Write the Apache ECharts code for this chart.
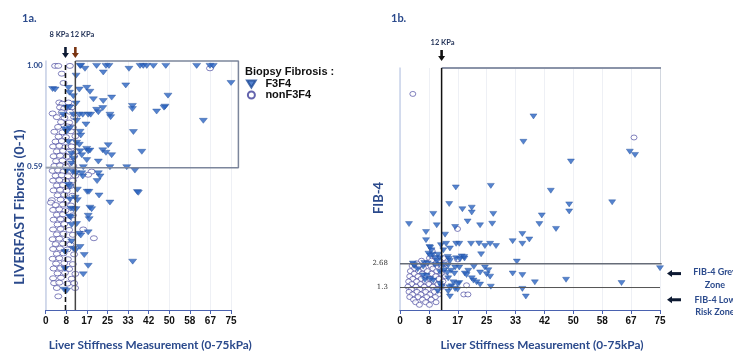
<!DOCTYPE html>
<html>
<head>
<meta charset="utf-8">
<script src="https://cdn.jsdelivr.net/npm/echarts@6/dist/echarts.min.js"></script>
<style>
  html, body { margin: 0; background: #fff; }
  #chart { width: 733px; height: 356px; }
</style>
</head>
<body>
<div id="chart"></div>
<script>
// tick labels of both x axes (0-75 kPa split in 9 steps)
const xTickLabels = ['0', '8', '17', '25', '33', '42', '50', '58', '67', '75'];
const liverfastTicks = [0.59, 1.00];
const fib4Ticks = [1.3, 2.68];

// cut-offs
const lsmCutLow = 8;
const lsmCutHigh = 12;
const liverfastCut = 0.59;
const fib4Grey = 2.68;
const fib4Low = 1.3;

// 1a. LIVERFAST vs LSM  [kPa, score]
const liverfastF3F4 = [
  [13.9, 1.0], [14.2, 1.0], [20.6, 1.0], [24.4, 1.0], [25.6, 1.0], [38.2, 1.0], [39.5, 1.0], [40.9, 1.0],
  [43.6, 1.0], [48.6, 1.0], [61.1, 1.0], [66.5, 1.0], [67.8, 1.0], [15.9, 0.988], [33.7, 0.988],
  [23.3, 0.973], [12.3, 0.96], [75, 0.93], [2.8, 0.905], [3.8, 0.903], [9.2, 0.91], [13.6, 0.903],
  [16.6, 0.91], [17.9, 0.894], [32.4, 0.92], [9.6, 0.89], [11.2, 0.876], [19.3, 0.863], [23.3, 0.856],
  [26.7, 0.87], [35.1, 0.836], [35.1, 0.823], [49.5, 0.878], [48.3, 0.833], [47.9, 0.829], [44.9, 0.813],
  [63.8, 0.775], [8.5, 0.83], [9.8, 0.83], [12.3, 0.846], [20.6, 0.82], [21.3, 0.81], [23.1, 0.827],
  [26, 0.8], [26.3, 0.79], [7.1, 0.8], [11.2, 0.8], [13.6, 0.8], [15, 0.8], [17.2, 0.8], [18.2, 0.8],
  [16.3, 0.76], [12.5, 0.775], [7.8, 0.74], [8.5, 0.73], [13.9, 0.73], [14.2, 0.715], [35.5, 0.729],
  [9.8, 0.745], [9.2, 0.688], [12.5, 0.685], [13.6, 0.677], [25.3, 0.675], [16.6, 0.66], [17.2, 0.65],
  [17.9, 0.653], [23.1, 0.654], [24.4, 0.644], [26.7, 0.634], [38.9, 0.648], [13.9, 0.65], [14.6, 0.634],
  [10.5, 0.64], [11.2, 0.62], [16.6, 0.614], [21.3, 0.608], [10.5, 0.6], [15.2, 0.585], [26, 0.585],
  [32.8, 0.585], [36.1, 0.571], [8.5, 0.57], [11, 0.565], [12.3, 0.56], [14.6, 0.56], [15, 0.547],
  [21.3, 0.56], [22, 0.547], [20.8, 0.528], [9.2, 0.513], [9.8, 0.504], [12.8, 0.493], [16.8, 0.484],
  [17.5, 0.484], [21.6, 0.469], [37.1, 0.483], [37.5, 0.48], [11.9, 0.46], [12.8, 0.45], [9.8, 0.453],
  [26, 0.44], [10.2, 0.415], [11.2, 0.413], [12.3, 0.413], [17.9, 0.419], [18.6, 0.413], [9.6, 0.383],
  [10.1, 0.379], [17.2, 0.386], [17.6, 0.372], [10.5, 0.348], [12.5, 0.352], [17.2, 0.318], [13.6, 0.312],
  [14.2, 0.305], [10.5, 0.281], [11.2, 0.251], [12.1, 0.245], [13.9, 0.258], [15.6, 0.225], [7.8, 0.238],
  [35.2, 0.198], [17.2, 0.181], [7.8, 0.168], [15.2, 0.146], [7.5, 0.083], [8.5, 0.079]
];
const liverfastNonF3F4 = [
  [3.8, 1.0], [5.1, 1.0], [9.8, 1.0], [66.5, 0.99], [6.5, 0.968], [7.2, 0.93], [5.5, 0.85], [6.8, 0.845],
  [9.2, 0.85], [5.8, 0.83], [7.5, 0.826], [10.5, 0.83], [2.8, 0.805], [6.5, 0.81], [9.8, 0.812], [4.5, 0.79],
  [7.6, 0.787], [11.5, 0.79], [6.2, 0.77], [9.5, 0.768], [5, 0.75], [8.8, 0.752], [11, 0.748], [3.5, 0.73],
  [6.8, 0.728], [10.2, 0.732], [5.2, 0.71], [8.2, 0.708], [12, 0.712], [4, 0.69], [6.5, 0.692], [11, 0.688],
  [3, 0.67], [5.5, 0.672], [8, 0.668], [10.5, 0.67], [4.5, 0.65], [7, 0.652], [9.5, 0.648], [12.5, 0.65],
  [3.2, 0.63], [5.8, 0.632], [8.5, 0.628], [11.5, 0.63], [4.2, 0.61], [6.8, 0.612], [9.8, 0.608], [3.5, 0.59],
  [5.8, 0.592], [8.2, 0.588], [11.2, 0.59], [2.8, 0.57], [5, 0.572], [7.2, 0.568], [10, 0.57], [18.6, 0.567],
  [4, 0.55], [6.5, 0.552], [9, 0.548], [12, 0.55], [17.2, 0.554], [3, 0.53], [5.5, 0.532], [8.2, 0.528],
  [11, 0.53], [4.5, 0.51], [7, 0.512], [10, 0.508], [3.2, 0.49], [5.8, 0.492], [8.5, 0.488], [4.8, 0.47],
  [7.5, 0.472], [10.8, 0.468], [2.5, 0.45], [6, 0.452], [8.8, 0.448], [2.1, 0.44], [4, 0.43], [7, 0.432],
  [10.2, 0.428], [3, 0.41], [5.5, 0.412], [8, 0.408], [4.5, 0.39], [7, 0.392], [11, 0.388], [3.2, 0.37],
  [6, 0.372], [9, 0.368], [4.8, 0.35], [7.5, 0.352], [3, 0.33], [6, 0.332], [9.5, 0.328], [15.2, 0.33],
  [4.5, 0.31], [7.2, 0.312], [11, 0.308], [2.8, 0.29], [5.5, 0.292], [8.5, 0.288], [19.5, 0.294], [4, 0.27],
  [7, 0.272], [10, 0.268], [3, 0.25], [5.8, 0.252], [8.8, 0.248], [4.5, 0.23], [7.2, 0.232], [11.5, 0.228],
  [2.8, 0.21], [5.5, 0.212], [9, 0.208], [4.2, 0.19], [7.5, 0.192], [11, 0.188], [3.2, 0.17], [6, 0.172],
  [9.5, 0.168], [4.8, 0.15], [7.8, 0.152], [12, 0.148], [3, 0.13], [6.2, 0.132], [10.5, 0.128], [3.4, 0.11],
  [5.5, 0.112], [8.8, 0.108], [11.5, 0.11], [4.5, 0.09], [11.9, 0.09], [5.1, 0.056]
];

// 1b. FIB-4 vs LSM  [kPa, FIB-4]
const fib4F3F4 = [
  [38.5, 11.2], [35.6, 9.73], [49.3, 8.59], [66.3, 9.16], [67.8, 8.97], [16.1, 7.09], [26.2, 7.18],
  [43.5, 6.9], [48.8, 6.11], [48.8, 5.7], [61.2, 6.23], [14.2, 6.13], [9.6, 5.56], [18, 5.83], [20.7, 5.92],
  [20.7, 5.64], [26.9, 5.56], [40.9, 5.47], [19.5, 5.12], [2.6, 4.97], [10.6, 4.9], [15.9, 4.8], [23.1, 4.9],
  [26.6, 4.99], [40.2, 4.97], [45, 4.69], [7.5, 4.51], [13, 4.36], [35.3, 4.4], [37.3, 4.08], [32.5, 3.98],
  [35.3, 3.83], [7.5, 4.04], [11.8, 3.75], [13.3, 3.83], [16.2, 3.83], [17.1, 3.83], [20.5, 3.83],
  [22.8, 3.85], [24.5, 3.7], [26, 3.83], [27.7, 3.7], [8.5, 3.64], [12.5, 3.45], [14.4, 3.56], [23.4, 3.22],
  [33.7, 2.8], [75, 2.42], [32.5, 2.11], [35.3, 2.02], [38.9, 1.6], [47.9, 1.75], [63.9, 1.56], [35.3, 1.22],
  [36.3, 0.78], [21.3, 2.5], [24.5, 2.46], [25.5, 2.3], [19.7, 2.27], [18.7, 2.11], [19.2, 2.02], [23.1, 2.17],
  [25, 2.07], [26, 1.93], [20.7, 1.83], [21.2, 1.7], [22.1, 1.6], [23.1, 1.47], [26.2, 1.35], [17.1, 1.56],
  [14.9, 1.37], [15.9, 1.22], [13.9, 1.07], [14.4, 0.78], [6.7, 2.0], [7.2, 1.73], [4, 2.6], [6.7, 2.51],
  [7, 2.72], [8, 2.69], [3.7, 2.69], [4.1, 2.55], [5.1, 2.36], [7.7, 1.98], [8.7, 1.79], [9.6, 1.7],
  [10.9, 1.09], [11.5, 1.5], [12, 1.35], [13.9, 1.83], [15.4, 1.6], [16.6, 1.5], [14.2, 1.31], [16.6, 1.18],
  [10.1, 2.6], [11.4, 2.62], [12.6, 2.6], [13.9, 2.58], [15.9, 2.46], [17.1, 2.46], [14.7, 2.27],
  [15.7, 2.11], [11.5, 2.2], [12.8, 2.3], [13.7, 2.15], [9.4, 3.2], [10.2, 3.0], [10.6, 2.84], [13.8, 3.07],
  [14.1, 2.95], [14.4, 2.84], [17.8, 3.1], [18.6, 2.98], [8.2, 3.26], [8.7, 3.14], [11, 3.2], [11.5, 2.99],
  [16.2, 2.99], [17.3, 2.93], [18.5, 3.07], [8.7, 3.6], [9.1, 3.45]
];
const fib4NonF3F4 = [
  [3.7, 12.5], [67.5, 9.98], [16.6, 4.69], [9.3, 3.41], [16.6, 2.93], [19.2, 1.43], [18.4, 0.9], [19.6, 0.9],
  [8.5, 3.0], [10.2, 3.0], [12.5, 3.0], [6.2, 2.85], [9.1, 2.85], [11.5, 2.85], [4.8, 2.7], [7.6, 2.7],
  [10.4, 2.7], [13.2, 2.7], [3.5, 2.55], [5.6, 2.55], [8.9, 2.55], [11.8, 2.55], [4.2, 2.4], [6.8, 2.4],
  [9.5, 2.4], [12.6, 2.4], [3, 2.25], [5.3, 2.25], [7.9, 2.25], [10.6, 2.25], [4.1, 2.1], [6.4, 2.1],
  [9.1, 2.1], [11.9, 2.1], [2.8, 1.95], [5.2, 1.95], [7.8, 1.95], [10.3, 1.95], [13.1, 1.95], [3.7, 1.8],
  [6.1, 1.8], [8.6, 1.8], [11.2, 1.8], [2.5, 1.65], [4.8, 1.65], [7.3, 1.65], [9.8, 1.65], [12.4, 1.65],
  [3.4, 1.5], [5.9, 1.5], [8.3, 1.5], [10.9, 1.5], [2.3, 1.35], [4.6, 1.35], [7, 1.35], [9.5, 1.35],
  [12.1, 1.35], [3.3, 1.2], [5.7, 1.2], [8.1, 1.2], [10.6, 1.2], [2.6, 1.05], [4.9, 1.05], [7.4, 1.05],
  [9.9, 1.05], [3.6, 0.9], [6, 0.9], [8.6, 0.9], [11.1, 0.9], [2.8, 0.75], [5.2, 0.75], [7.7, 0.75],
  [10.2, 0.75], [3.9, 0.6], [6.5, 0.6], [9, 0.6], [4.5, 0.45], [7.4, 0.45], [10.4, 0.45], [5.6, 0.3], [8.5, 0.3]
];

const navy = '#2b4a8c';
const triColor = '#2a64c2';
const triSymbol = 'path://M0,0L10,0L5,8Z';
const xStep = 75 / 9;

const chart = echarts.init(document.getElementById('chart'));

function xAxisCfg(gridIndex) {
  return {
    gridIndex: gridIndex, type: 'value', min: 0, max: 75, interval: xStep,
    name: 'Liver Stiffness Measurement (0-75kPa)', nameLocation: 'middle', nameGap: 29,
    nameMoveOverlap: false,
    nameTextStyle: { fontFamily: 'Lato', fontWeight: 'bold', fontSize: 11.8, color: navy, padding: [0, 0, 0, 24] },
    axisLine: { lineStyle: { color: '#4a62b0', width: 1.2 } },
    axisTick: { length: 4, lineStyle: { color: '#4a62b0' } },
    axisLabel: {
      fontFamily: 'Liberation Sans', fontWeight: 'bold', fontSize: 10, color: '#111', margin: 6,
      formatter: v => xTickLabels[Math.round(v / xStep)] || ''
    },
    splitLine: { show: true, lineStyle: { color: '#eef0f5' } }
  };
}

const option = {
  animation: false,
  grid: [
    { left: 45.7, right: 502, top: 61, bottom: 42 },
    { left: 45.7, right: 494.6, top: 61, bottom: 42 },
    { left: 400, right: 73, top: 68, bottom: 43 }
  ],
  xAxis: [
    xAxisCfg(0),
    { gridIndex: 1, type: 'value', min: 0, max: 78, show: false },
    xAxisCfg(2)
  ],
  yAxis: [
    {
      gridIndex: 0, type: 'value', min: 0, max: 1.02,
      name: 'LIVERFAST Fibrosis (0-1)', nameLocation: 'middle', nameGap: 19, nameMoveOverlap: false,
      nameTextStyle: { fontFamily: 'Lato', fontWeight: 'bold', fontSize: 14, color: navy, padding: [0, 43, 0, 0] },
      axisLine: { show: true, lineStyle: { color: '#c7d0e6', width: 1.5 } },
      axisTick: { show: false },
      splitLine: { show: false },
      axisLabel: {
        customValues: liverfastTicks, fontFamily: 'Lato', fontWeight: 'bold', fontSize: 8, color: navy, margin: 3,
        formatter: v => v.toFixed(2)
      }
    },
    { gridIndex: 1, type: 'value', min: 0, max: 1.02, show: false },
    {
      gridIndex: 2, type: 'value', min: 0, max: 14,
      name: 'FIB-4', nameLocation: 'middle', nameGap: 15, nameMoveOverlap: false,
      nameTextStyle: { fontFamily: 'Lato', fontWeight: 'bold', fontSize: 13, color: navy, padding: [0, 18, 0, 0] },
      axisLine: { show: true, lineStyle: { color: '#c9d3ea', width: 1.5 } },
      axisTick: { show: false },
      splitLine: { show: false },
      axisLabel: {
        customValues: fib4Ticks, fontFamily: 'DejaVu Serif', fontSize: 7, color: '#333', margin: 12,
        formatter: v => String(v)
      }
    }
  ],
  legend: {
    left: 246, top: 78.5, padding: 0, orient: 'vertical', itemGap: 0, itemWidth: 10, itemHeight: 7,
    textStyle: { fontFamily: 'Liberation Sans', fontWeight: 'bold', fontSize: 11, lineHeight: 11, color: '#111', padding: [0, 0, 0, 4] },
    data: [
      { name: 'F3F4', icon: triSymbol },
      { name: 'nonF3F4', icon: 'circle' }
    ]
  },
  series: [
    // reference lines and boxes
    {
      type: 'line', xAxisIndex: 1, yAxisIndex: 1, silent: true, symbol: 'none', clip: false,
      lineStyle: { color: '#9aa2b2', width: 2 },
      data: [[0, liverfastCut], [lsmCutHigh, liverfastCut]]
    },
    {
      type: 'line', xAxisIndex: 1, yAxisIndex: 1, silent: true, symbol: 'none', clip: false,
      lineStyle: { color: '#7c869c', width: 1.5 },
      data: [[lsmCutHigh, 1.02], [78, 1.02], [78, liverfastCut], [lsmCutHigh, liverfastCut]]
    },
    {
      type: 'line', xAxisIndex: 0, yAxisIndex: 0, silent: true, symbol: 'none', clip: false,
      lineStyle: { color: '#111', width: 1.5, type: [5, 3] },
      data: [[lsmCutLow, 0], [lsmCutLow, 1.015]]
    },
    {
      type: 'line', xAxisIndex: 0, yAxisIndex: 0, silent: true, symbol: 'none', clip: false,
      lineStyle: { color: '#444', width: 1.5 },
      data: [[lsmCutHigh, 0], [lsmCutHigh, 1.02]]
    },
    {
      type: 'line', xAxisIndex: 2, yAxisIndex: 2, silent: true, symbol: 'none', clip: false,
      lineStyle: { color: '#8a93a8', width: 2 },
      data: [[lsmCutHigh, 14], [75.5, 14], [75.5, fib4Grey]]
    },
    {
      type: 'line', xAxisIndex: 2, yAxisIndex: 2, silent: true, symbol: 'none', clip: false,
      lineStyle: { color: '#666c78', width: 1.5 },
      data: [[0, fib4Grey], [75.5, fib4Grey]]
    },
    {
      type: 'line', xAxisIndex: 2, yAxisIndex: 2, silent: true, symbol: 'none', clip: false,
      lineStyle: { color: '#555', width: 1 },
      data: [[0, fib4Low], [75, fib4Low]]
    },
    {
      type: 'line', xAxisIndex: 2, yAxisIndex: 2, silent: true, symbol: 'none', clip: false,
      lineStyle: { color: '#111', width: 1.5 },
      data: [[lsmCutHigh, 0], [lsmCutHigh, 14]]
    },
    // points
    {
      name: 'nonF3F4', type: 'scatter', xAxisIndex: 0, yAxisIndex: 0, symbol: 'circle', symbolSize: [7, 5],
      itemStyle: { color: '#fff', borderColor: '#3d3d99', borderWidth: 0.8 }, data: liverfastNonF3F4
    },
    {
      name: 'F3F4', type: 'scatter', xAxisIndex: 0, yAxisIndex: 0, symbol: triSymbol, symbolSize: [8, 5],
      itemStyle: { color: triColor, borderColor: '#1d4a98', borderWidth: 0.5 }, data: liverfastF3F4
    },
    {
      name: 'nonF3F4', type: 'scatter', xAxisIndex: 2, yAxisIndex: 2, symbol: 'circle', symbolSize: [6, 5],
      itemStyle: { color: '#fff', borderColor: '#3d3d99', borderWidth: 0.8 }, data: fib4NonF3F4
    },
    {
      name: 'F3F4', type: 'scatter', xAxisIndex: 2, yAxisIndex: 2, symbol: triSymbol, symbolSize: [7, 5],
      itemStyle: { color: triColor, borderColor: '#1d4a98', borderWidth: 0.5 }, data: fib4F3F4
    }
  ]
};
chart.setOption(option);

// annotations placed from the axes
function downArrow(x, yBottom, color) {
  return {
    type: 'group',
    children: [
      { type: 'rect', shape: { x: x - 1.3, y: yBottom - 11, width: 2.6, height: 7 }, style: { fill: color } },
      { type: 'polygon', shape: { points: [[x - 3.5, yBottom - 5], [x + 3.5, yBottom - 5], [x, yBottom]] }, style: { fill: color } }
    ]
  };
}
function leftArrow(xTip, y, color) {
  return {
    type: 'group',
    children: [
      { type: 'rect', shape: { x: xTip + 5, y: y - 1.5, width: 9, height: 3 }, style: { fill: color } },
      { type: 'polygon', shape: { points: [[xTip + 5, y - 3.5], [xTip + 5, y + 3.5], [xTip, y]] }, style: { fill: color } }
    ]
  };
}
function label(text, x, y, size, color, align, family) {
  return {
    type: 'text', x: x, y: y,
    style: {
      text: text, fill: color, align: align || 'left', verticalAlign: 'middle',
      font: 'bold ' + size + 'px ' + (family || 'Lato'), lineHeight: size + 3.5
    }
  };
}

const a8 = chart.convertToPixel({ gridIndex: 0 }, [lsmCutLow, 1.02]);
const a12 = chart.convertToPixel({ gridIndex: 0 }, [lsmCutHigh, 1.02]);
const b12 = chart.convertToPixel({ gridIndex: 2 }, [lsmCutHigh, 14]);
const bGrey = chart.convertToPixel({ gridIndex: 2 }, [75, (fib4Grey + fib4Low) / 2]);
const bLow = chart.convertToPixel({ gridIndex: 2 }, [75, fib4Low / 2]);

chart.setOption({
  graphic: [
    label('1a.', 22, 18, 11, navy),
    label('1b.', 391, 18, 11, navy),
    label('8 KPa', a8[0] - 16, 35, 7.5, '#1f2f55'),
    label('12 KPa', a12[0] - 5, 35, 7.5, '#1f2f55'),
    label('12 KPa', b12[0] - 11, 43, 7.5, '#1f2f55'),
    label('Biopsy Fibrosis :', 245, 72, 11, '#111', 'left', 'Liberation Sans'),
    downArrow(a8[0], a8[1] - 3, '#0d1a33'),
    downArrow(a12[0], a12[1] - 3, '#7a3410'),
    downArrow(b12[0], b12[1] - 7, '#111'),
    leftArrow(bGrey[0] + 7, bGrey[1] - 2, '#0d1a33'),
    leftArrow(bLow[0] + 7, bLow[1] + 1, '#0d1a33'),
    label('FIB-4 Grey\nZone', 715, bGrey[1] + 3, 9, navy, 'center'),
    label('FIB-4 Low\nRisk Zone', 715, bLow[1] + 7.5, 9, navy, 'center')
  ]
});
</script>
</body>
</html>
